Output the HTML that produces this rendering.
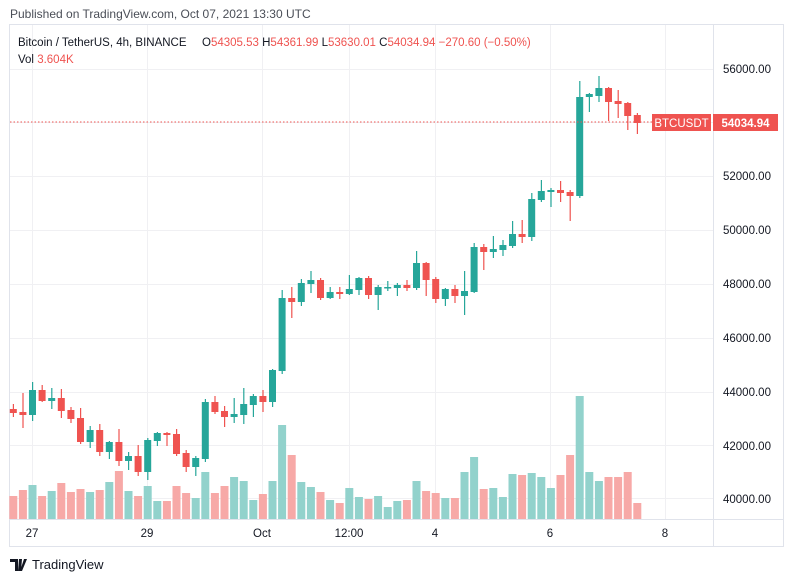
<!DOCTYPE html>
<html><head><meta charset="utf-8"><style>
body{margin:0;width:793px;height:582px;background:#fff;overflow:hidden;font-family:"Liberation Sans",sans-serif;}
svg{position:absolute;left:0;top:0}
</style></head><body>
<svg width="793" height="582" viewBox="0 0 793 582" id="s">
<text x="10" y="18" font-size="12" fill="#4a4e57">Published on TradingView.com, Oct 07, 2021 13:30 UTC</text>
<rect x="9.5" y="24.5" width="774" height="522" fill="#fff" stroke="#e0e3eb"/>
<g stroke="#f0f0f3" stroke-width="1" id="grid"></g>
<line x1="713.5" y1="25" x2="713.5" y2="546" stroke="#e0e3eb"/>
<line x1="10" y1="519.5" x2="784" y2="519.5" stroke="#e0e3eb"/>
<g id="vol"></g>
<g id="cd"></g>
<line x1="10" y1="122" x2="652" y2="122" stroke="#ef5350" stroke-dasharray="1.5,2" stroke-width="1"/>
<rect x="652" y="114" width="59" height="17" fill="#ef5350"/>
<text x="681.5" y="127" font-size="11.5" fill="#fff" text-anchor="middle">BTCUSDT</text>
<rect x="713" y="114" width="65" height="17" fill="#ef5350"/>
<text x="745.5" y="127" font-size="11.5" fill="#fff" text-anchor="middle" font-weight="bold">54034.94</text>
<g font-size="11.5" fill="#131722" text-anchor="start">
<text x="723" y="73">56000.00</text>
<text x="723" y="180">52000.00</text>
<text x="723" y="234">50000.00</text>
<text x="723" y="288">48000.00</text>
<text x="723" y="342">46000.00</text>
<text x="723" y="396">44000.00</text>
<text x="723" y="450">42000.00</text>
<text x="723" y="503">40000.00</text>
</g>
<g font-size="11.5" fill="#131722" text-anchor="middle">
<text x="32" y="537">27</text>
<text x="147" y="537">29</text>
<text x="262" y="537">Oct</text>
<text x="349" y="537">12:00</text>
<text x="435" y="537">4</text>
<text x="550" y="537">6</text>
<text x="665" y="537">8</text>
</g>
<g font-size="11.5">
<text x="18" y="46" fill="#131722">Bitcoin / TetherUS, 4h, BINANCE</text>
<text x="202" y="46" fill="#131722">O<tspan fill="#ef5350">54305.53</tspan> H<tspan fill="#ef5350">54361.99</tspan> L<tspan fill="#ef5350">53630.01</tspan> C<tspan fill="#ef5350">54034.94</tspan> <tspan fill="#ef5350">−270.60 (−0.50%)</tspan></text>
<text x="18" y="63" fill="#131722">Vol <tspan fill="#ef5350">3.604K</tspan></text>
</g>
<g transform="translate(10,557)"><path d="M0 2h8v12h-3v-9h-5z M9 2h3l-1 12h-3z M14 2h3l-5 12h-2z" fill="#131722"/></g>
<text x="32" y="569" font-size="13" fill="#131722">TradingView</text>
</svg>
<script>
var NS="http://www.w3.org/2000/svg";
function el(p,t,a){var e=document.createElementNS(NS,t);for(var k in a)e.setAttribute(k,a[k]);document.getElementById(p).appendChild(e);}
[69,122+0,176,230,284,338,392,445,498].forEach(function(y,i){if(i==1)y=122;el("grid","line",{x1:10,x2:713,y1:y+.5,y2:y+.5});});
[32,147,262,349,435,550,665].forEach(function(x){el("grid","line",{x1:x+.5,x2:x+.5,y1:25,y2:519});});
// [color, bodyTop, bodyBot, wickTop, wickBot]
var C=[
["r",409,413,404,417],["r",412,415,393,428],["g",390,415,382,421],["r",390,401,385,402],["g",398,401,388,409],
["r",398,411,389,418],["r",410,419,407,423],["r",418,442,408,444],["g",430,442,426,448],["r",430,452,424,456],
["g",442,452,441,459],["r",442,461,429,466],["g",456,461,452,470],["r",456,472,445,476],["g",440,472,438,480],
["g",433,441,432,446],["r",433,435,432,446],["r",434,454,429,456],["r",453,467,450,472],["g",458,467,456,476],
["g",402,459,399,462],["r",402,412,396,414],["r",411,417,406,427],["g",414,417,398,423],["g",404,415,388,424],
["g",396,405,394,417],["r",396,402,390,412],["g",370,402,369,407],["g",298,371,290,374],["r",298,302,287,318],
["g",283,302,279,306],["g",280,284,271,293],["r",280,298,278,300],["g",292,298,287,299],["r",292,294,287,299],
["g",289,294,275,295],["g",278,290,277,295],["r",278,295,276,299],["g",287,295,285,310],["g",287,288,281,291],
["g",285,288,283,296],["r",285,288,280,291],["g",263,288,251,290],["r",263,280,262,296],["r",279,299,277,303],
["g",289,299,288,306],["r",289,296,285,303],["g",291,296,271,315],["g",247,292,243,293],["r",247,252,244,270],
["g",249,252,236,258],["g",245,250,240,256],["g",234,246,221,248],["r",234,237,220,243],["g",199,237,193,241],
["g",191,200,180,202],["g",190,192,188,207],["r",190,193,181,202],["r",192,196,190,221],["g",97,196,81,198],
["g",94,97,93,112],["g",88,96,76,102],["r",88,102,87,121],["r",101,104,90,118],["r",103,116,102,130],["r",115,123,113,134]];
var V=[496,490,485,496,491,483,492,489,492,490,482,471,491,496,486,501,501,486,493,498,472,493,486,477,481,500,494,481,425,455,
482,487,492,500,503,488,497,499,496,507,501,500,481,491,493,498,498,472,457,489,488,497,474,475,473,477,488,475,455,396,472,481,477,477,472,503];
C.forEach(function(c,i){var x=13.3+i*9.6;var col=c[0]=="g"?"#26a69a":"#ef5350";var vc=c[0]=="g"?"#92d2cc":"#f7a9a7";
var vy=V[i];el("vol","rect",{x:x-4,y:vy,width:8,height:519-vy,fill:vc});
el("cd","rect",{x:x-0.5,y:c[3],width:1.2,height:c[4]-c[3],fill:col});
el("cd","rect",{x:x-3.5,y:c[1],width:7,height:Math.max(1.5,c[2]-c[1]),fill:col});});
</script>
</body></html>
